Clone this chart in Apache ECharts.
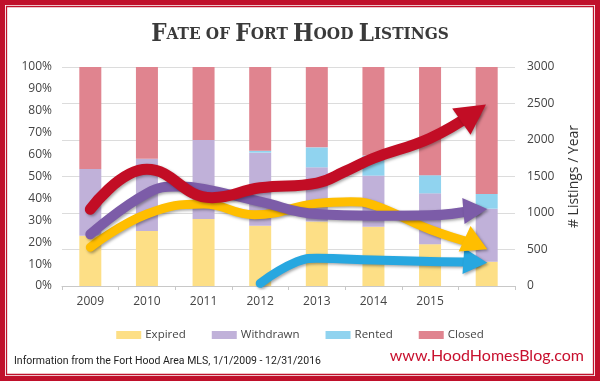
<!DOCTYPE html>
<html><head><meta charset="utf-8">
<script src="https://cdn.jsdelivr.net/npm/echarts@6/dist/echarts.min.js"></script>
<style>html,body{margin:0;padding:0;background:#fff}#c{width:600px;height:381px}</style>
</head><body><div id="c"></div>
<script>
// ---- data ----
var xLabels = ['2009','2010','2011','2012','2013','2014','2015',''];
var pctTicks = [0,10,20,30,40,50,60,70,80,90,100];
var expiredPct   = [23.0, 25.1, 30.6, 27.5, 29.4, 27.1, 19.1, 11.1];
var withdrawnPct = [30.4, 33.0, 36.1, 33.4, 24.8, 23.3, 23.2, 24.2];
var rentedPct    = [0, 0, 0, 0.9, 9.1, 9.2, 8.3, 6.7];
var closedPct    = [46.6, 41.9, 33.3, 38.2, 36.7, 40.4, 49.4, 58.0];
// listings per year trend lines: [category position, listings]
var closedLine    = [[0,1050],[1,1598],[2.15,1210],[3,1345],[4,1410],[4.5,1570],[5,1750],[6,2025],[6.77,2370]];
var withdrawnLine = [[0,708],[1,1269],[1.55,1362],[2,1330],[3,1155],[4,985],[5,962],[6,968],[6.8,1041]];
var expiredLine   = [[0,530],[1,986],[2,1123],[2.9,975],[4,1132],[4.6,1155],[5,1110],[6,775],[6.81,575]];
var rentedLine    = [[3,37],[3.65,333],[4,379],[5,356],[6,335],[6.8,329]];

var chart = echarts.init(document.getElementById('c'), null, {renderer:'canvas'});
var FONT = 'Open Sans';
var shadow = {shadowColor:'rgba(0,0,0,0.35)', shadowBlur:3, shadowOffsetX:1.5, shadowOffsetY:1.5};
function trend(name, data, color, width){
  return {name:name, type:'line', xAxisIndex:1, yAxisIndex:1, data:data, smooth:0.45,
    symbol:'none', silent:true, z:5,
    lineStyle:Object.assign({color:color, width:width, cap:'round'}, shadow)};
}
function arrow(data, color, size, rot){
  return {type:'scatter', xAxisIndex:1, yAxisIndex:1, data:[data[data.length-1]], symbol:'triangle',
    symbolSize:size, symbolRotate:rot, silent:true, z:6,
    itemStyle:Object.assign({color:color, opacity:1}, shadow)};
}
var option = {
  animation:false,
  title:{
    text:'{b|F}{s|ATE OF }{b|F}{s|ORT }{b|H}{s|OOD }{b|L}{s|ISTINGS}',
    left:'center', top:18,
    textStyle:{rich:{
      b:{fontFamily:'DejaVu Serif Condensed', fontWeight:'bold', fontSize:24, color:'#3a3a3a'},
      s:{fontFamily:'DejaVu Serif Condensed', fontWeight:'bold', fontSize:17, color:'#3a3a3a'}
    }}
  },
  legend:{
    data:['Expired','Withdrawn','Rented','Closed'], left:'center', top:324,
    itemWidth:25, itemHeight:8, itemGap:26, icon:'rect',
    textStyle:{fontFamily:FONT, fontSize:11.5, color:'#444', padding:[0,0,0,-1]}
  },
  grid:{left:62, right:85, top:67, bottom:95},
  xAxis:[
    {type:'category', data:xLabels, boundaryGap:true,
     axisLine:{lineStyle:{color:'#c8c8c8'}}, axisTick:{show:true, length:4, lineStyle:{color:'#c8c8c8'}},
     axisLabel:{fontFamily:FONT, fontSize:12, color:'#444', margin:10}},
    {type:'value', min:-0.5, max:7.5, show:false}
  ],
  yAxis:[
    {type:'value', min:0, max:100, interval:10, position:'left',
     axisLine:{show:false}, axisTick:{show:false}, splitLine:{show:false},
     axisLabel:{fontFamily:FONT, fontSize:12, color:'#444', margin:10,
       formatter:function(v){return pctTicks.indexOf(v)>=0 ? v+'%' : '';}}},
    {type:'value', min:0, max:3000, interval:500, position:'right',
     name:'# Listings / Year', nameLocation:'middle', nameRotate:90, nameGap:52,
     nameTextStyle:{fontFamily:FONT, fontSize:14, color:'#333'},
     axisLine:{show:false}, axisTick:{show:false},
     splitLine:{lineStyle:{color:'#dcdcdc'}},
     axisLabel:{fontFamily:FONT, fontSize:12, color:'#444', margin:12,
       formatter:function(v){return String(v);}}}
  ],
  series:[
    {name:'Expired', type:'bar', stack:'p', barWidth:22, data:expiredPct, itemStyle:{color:'#fddf86'}},
    {name:'Withdrawn', type:'bar', stack:'p', data:withdrawnPct, itemStyle:{color:'#c0b1d9'}},
    {name:'Rented', type:'bar', stack:'p', data:rentedPct, itemStyle:{color:'#90d3ef'}},
    {name:'Closed', type:'bar', stack:'p', data:closedPct, itemStyle:{color:'#e0848f'}},
    trend('rl', rentedLine, '#27a7e0', 9),
    trend('el', expiredLine, '#ffbe00', 9),
    trend('wl', withdrawnLine, '#7c5ca8', 10),
    trend('cl', closedLine, '#c20d25', 11),
    arrow(rentedLine, '#27a7e0', [26,24], -94),
    arrow(expiredLine, '#ffbe00', [28,25], -115),
    arrow(withdrawnLine, '#7c5ca8', [26,24], -85),
    arrow(closedLine, '#c20d25', [32,30], -55)
  ],
  graphic:[
    {type:'rect', shape:{x:0,y:0,width:600,height:381}, style:{fill:'none', stroke:'#c0102b', lineWidth:10}, silent:true},
    {type:'rect', shape:{x:6.5,y:6.5,width:587,height:368}, style:{fill:'none', stroke:'#c0102b', lineWidth:1.3}, silent:true},
    {type:'text', left:14, top:356, style:{text:'Information from the Fort Hood Area MLS, 1/1/2009 - 12/31/2016', font:'10.5px "Liberation Sans Narrow", Roboto', fill:'#222'}},
    {type:'text', right:16, top:348, style:{text:'www.HoodHomesBlog.com', font:'16px Lato', fill:'#c8102e'}}
  ]
};
chart.setOption(option);
</script></body></html>
